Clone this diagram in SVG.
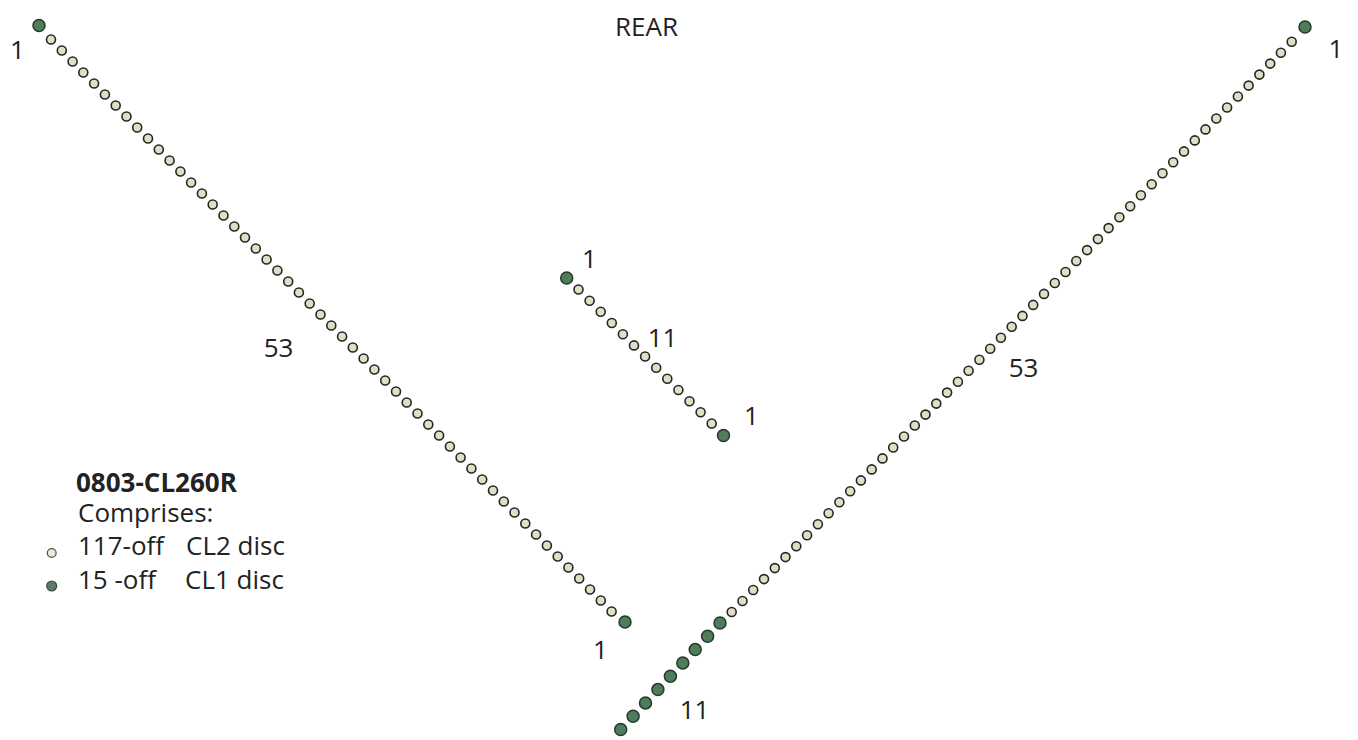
<svg xmlns="http://www.w3.org/2000/svg" xmlns:xlink="http://www.w3.org/1999/xlink" width="1358" height="740" viewBox="0 0 1358 740">
<defs>
<style>
.t{font-family:"Open Sans","Noto Sans","Liberation Sans",sans-serif;font-size:26px;fill:#222222}
.c{text-anchor:middle}
.b{font-weight:bold}
.cl2{fill:#e0dfc6;stroke:#262624;stroke-width:1.6}
.cl1{fill:#4f7d5c;stroke:#253a2b;stroke-width:1.5}
</style>
<circle id="b" r="4.5" class="cl2"/>
<circle id="g" r="6" class="cl1"/>
</defs>
<rect width="1358" height="740" fill="#ffffff"/>
<g id="left-line">
<use href="#g" x="39" y="25.5"/>
<use href="#b" x="51.0" y="39.5"/><use href="#b" x="61.8" y="50.5"/><use href="#b" x="72.6" y="61.5"/><use href="#b" x="83.3" y="72.5"/><use href="#b" x="94.1" y="83.5"/><use href="#b" x="104.9" y="94.5"/><use href="#b" x="115.7" y="105.5"/><use href="#b" x="126.5" y="116.5"/><use href="#b" x="137.2" y="127.5"/><use href="#b" x="148.0" y="138.5"/>
<use href="#b" x="158.8" y="149.5"/><use href="#b" x="169.6" y="160.5"/><use href="#b" x="180.4" y="171.5"/><use href="#b" x="191.1" y="182.5"/><use href="#b" x="201.9" y="193.5"/><use href="#b" x="212.7" y="204.5"/><use href="#b" x="223.5" y="215.5"/><use href="#b" x="234.3" y="226.5"/><use href="#b" x="245.0" y="237.5"/><use href="#b" x="255.8" y="248.5"/>
<use href="#b" x="266.6" y="259.5"/><use href="#b" x="277.4" y="270.5"/><use href="#b" x="288.2" y="281.5"/><use href="#b" x="298.9" y="292.5"/><use href="#b" x="309.7" y="303.5"/><use href="#b" x="320.5" y="314.5"/><use href="#b" x="331.3" y="325.5"/><use href="#b" x="342.1" y="336.5"/><use href="#b" x="352.8" y="347.5"/><use href="#b" x="363.6" y="358.5"/>
<use href="#b" x="374.4" y="369.5"/><use href="#b" x="385.2" y="380.5"/><use href="#b" x="396.0" y="391.5"/><use href="#b" x="406.7" y="402.5"/><use href="#b" x="417.5" y="413.5"/><use href="#b" x="428.3" y="424.5"/><use href="#b" x="439.1" y="435.5"/><use href="#b" x="449.9" y="446.5"/><use href="#b" x="460.6" y="457.5"/><use href="#b" x="471.4" y="468.5"/>
<use href="#b" x="482.2" y="479.5"/><use href="#b" x="493.0" y="490.5"/><use href="#b" x="503.8" y="501.5"/><use href="#b" x="514.5" y="512.5"/><use href="#b" x="525.3" y="523.5"/><use href="#b" x="536.1" y="534.5"/><use href="#b" x="546.9" y="545.5"/><use href="#b" x="557.7" y="556.5"/><use href="#b" x="568.4" y="567.5"/><use href="#b" x="579.2" y="578.5"/>
<use href="#b" x="590.0" y="589.5"/><use href="#b" x="600.8" y="600.5"/><use href="#b" x="611.6" y="611.5"/>
<use href="#g" x="625" y="622"/>
</g>
<g id="middle-line">
<use href="#g" x="566.7" y="278"/>
<use href="#b" x="578.5" y="289.5"/><use href="#b" x="589.6" y="300.7"/><use href="#b" x="600.7" y="311.8"/><use href="#b" x="611.8" y="323.0"/><use href="#b" x="622.9" y="334.2"/><use href="#b" x="634.0" y="345.4"/><use href="#b" x="645.1" y="356.5"/><use href="#b" x="656.2" y="367.7"/><use href="#b" x="667.3" y="378.8"/><use href="#b" x="678.4" y="390.0"/>
<use href="#b" x="689.5" y="401.2"/><use href="#b" x="700.6" y="412.3"/><use href="#b" x="711.7" y="423.5"/>
<use href="#g" x="723.5" y="435.5"/>
</g>
<g id="right-line">
<use href="#g" x="1305" y="27"/>
<use href="#b" x="1291.7" y="41.7"/><use href="#b" x="1280.9" y="52.7"/><use href="#b" x="1270.2" y="63.6"/><use href="#b" x="1259.4" y="74.6"/><use href="#b" x="1248.6" y="85.6"/><use href="#b" x="1237.9" y="96.5"/><use href="#b" x="1227.1" y="107.5"/><use href="#b" x="1216.3" y="118.5"/><use href="#b" x="1205.5" y="129.4"/><use href="#b" x="1194.8" y="140.4"/>
<use href="#b" x="1184.0" y="151.4"/><use href="#b" x="1173.2" y="162.3"/><use href="#b" x="1162.5" y="173.3"/><use href="#b" x="1151.7" y="184.3"/><use href="#b" x="1140.9" y="195.2"/><use href="#b" x="1130.2" y="206.2"/><use href="#b" x="1119.4" y="217.2"/><use href="#b" x="1108.6" y="228.1"/><use href="#b" x="1097.9" y="239.1"/><use href="#b" x="1087.1" y="250.1"/>
<use href="#b" x="1076.3" y="261.0"/><use href="#b" x="1065.5" y="272.0"/><use href="#b" x="1054.8" y="283.0"/><use href="#b" x="1044.0" y="293.9"/><use href="#b" x="1033.2" y="304.9"/><use href="#b" x="1022.5" y="315.9"/><use href="#b" x="1011.7" y="326.8"/><use href="#b" x="1000.9" y="337.8"/><use href="#b" x="990.2" y="348.8"/><use href="#b" x="979.4" y="359.7"/>
<use href="#b" x="968.6" y="370.7"/><use href="#b" x="957.9" y="381.7"/><use href="#b" x="947.1" y="392.6"/><use href="#b" x="936.3" y="403.6"/><use href="#b" x="925.5" y="414.6"/><use href="#b" x="914.8" y="425.5"/><use href="#b" x="904.0" y="436.5"/><use href="#b" x="893.2" y="447.5"/><use href="#b" x="882.5" y="458.4"/><use href="#b" x="871.7" y="469.4"/>
<use href="#b" x="860.9" y="480.4"/><use href="#b" x="850.2" y="491.3"/><use href="#b" x="839.4" y="502.3"/><use href="#b" x="828.6" y="513.3"/><use href="#b" x="817.9" y="524.2"/><use href="#b" x="807.1" y="535.2"/><use href="#b" x="796.3" y="546.2"/><use href="#b" x="785.5" y="557.1"/><use href="#b" x="774.8" y="568.1"/><use href="#b" x="764.0" y="579.1"/>
<use href="#b" x="753.2" y="590.0"/><use href="#b" x="742.5" y="601.0"/><use href="#b" x="731.7" y="612.0"/>
<use href="#g" x="720.0" y="623.0"/><use href="#g" x="707.6" y="636.3"/><use href="#g" x="695.2" y="649.6"/><use href="#g" x="682.8" y="662.9"/><use href="#g" x="670.4" y="676.2"/><use href="#g" x="657.9" y="689.6"/><use href="#g" x="645.5" y="702.9"/><use href="#g" x="633.1" y="716.2"/><use href="#g" x="620.7" y="729.5"/>
</g>
<g id="labels" class="t">
<text class="t c" x="646.5" y="36">REAR</text>
<text class="t c" x="17.5" y="59">1</text>
<text class="t c" x="1336" y="58">1</text>
<text class="t c" x="589.5" y="268">1</text>
<text class="t c" x="662.5" y="347">11</text>
<text class="t c" x="751.5" y="425">1</text>
<text class="t c" x="278.5" y="357">53</text>
<text class="t c" x="1023.5" y="377">53</text>
<text class="t c" x="600.5" y="659">1</text>
<text class="t c" x="694.5" y="719">11</text>
</g>
<g id="legend">
<text class="t b" x="76" y="492">0803-CL260R</text>
<text class="t" x="78" y="521.5">Comprises:</text>
<circle cx="51.7" cy="553" r="4.4" fill="#eae9dc" stroke="#555550" stroke-width="1.3"/>
<text class="t" x="78" y="554.5">117-off</text>
<text class="t" x="186" y="554.5">CL2 disc</text>
<circle cx="51.7" cy="586" r="5" fill="#5f7a68" stroke="#3f4f44" stroke-width="1.2"/>
<text class="t" x="78" y="588.5">15 -off</text>
<text class="t" x="185" y="588.5">CL1 disc</text>
</g>
</svg>
